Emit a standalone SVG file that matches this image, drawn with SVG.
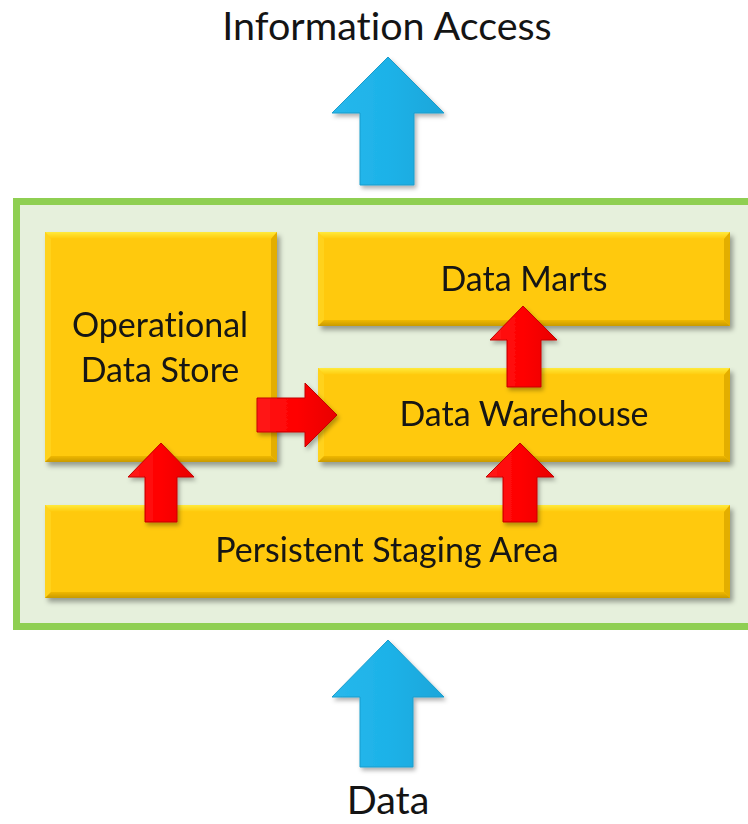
<svg xmlns="http://www.w3.org/2000/svg" width="748" height="824" viewBox="0 0 748 824">
  <defs>
    <style>
      .lbl { font-family: Lato, "Open Sans", "Liberation Sans", sans-serif; fill: #141414; text-anchor: middle; font-variant-ligatures: none; }
      .title { font-size: 39.5px; }
      .box-text { font-size: 34px; }
      .box-body { fill: #FFC908; }
      .bevel-top { fill: url(#gTop); }
      .bevel-bot { fill: url(#gBot); }
      .bevel-left { fill: #FFD21E; }
      .bevel-right { fill: #E3AE00; }
      .blue { fill: url(#gBlue); stroke: #1A9CCB; stroke-width: 1; }
      .red { fill: url(#gRed); stroke: #C40000; stroke-width: 1; }
    </style>
    <linearGradient id="gTop" x1="0" y1="0" x2="0" y2="1">
      <stop offset="0" stop-color="#FFEA3C"/>
      <stop offset="1" stop-color="#FFC908"/>
    </linearGradient>
    <linearGradient id="gBot" x1="0" y1="0" x2="0" y2="1">
      <stop offset="0" stop-color="#F0B800"/>
      <stop offset="1" stop-color="#C99A00"/>
    </linearGradient>
    <linearGradient id="gBlue" x1="0" y1="0" x2="1" y2="0">
      <stop offset="0" stop-color="#27B8EC"/>
      <stop offset="0.5" stop-color="#1DB2E8"/>
      <stop offset="1" stop-color="#1AA6DA"/>
    </linearGradient>
    <linearGradient id="gRed" x1="0" y1="0" x2="1" y2="0">
      <stop offset="0" stop-color="#FF1A1A"/>
      <stop offset="0.5" stop-color="#FF0000"/>
      <stop offset="1" stop-color="#E80000"/>
    </linearGradient>
    <filter id="shadow" x="-10%" y="-10%" width="130%" height="140%">
      <feDropShadow dx="3" dy="4" stdDeviation="2.5" flood-color="#000" flood-opacity="0.35"/>
    </filter>
    <filter id="softShadow" x="-20%" y="-20%" width="150%" height="150%">
      <feDropShadow dx="2" dy="3" stdDeviation="2" flood-color="#000" flood-opacity="0.3"/>
    </filter>
  </defs>

  <rect width="748" height="824" fill="#FFFFFF"/>

  <!-- outer container -->
  <g id="container">
    <rect x="16.5" y="201.5" width="740" height="425" fill="#E6F0DC" stroke="#8FCF52" stroke-width="7"/>
  </g>

  <!-- title and input labels -->
  <g id="label-information-access">
    <text class="lbl title" x="387" y="40">Information Access</text>
  </g>
  <g id="label-data">
    <text class="lbl title" x="388" y="814">Data</text>
  </g>

  <!-- Operational Data Store -->
  <g id="node-ods" filter="url(#shadow)">
    <rect class="box-body" x="45" y="232" width="232" height="230"/>
    <polygon class="bevel-top" points="45,232 277,232 271,239 51,239"/>
    <polygon class="bevel-left" points="45,232 51,239 51,456 45,462"/>
    <polygon class="bevel-right" points="277,232 277,462 271,456 271,239"/>
    <polygon class="bevel-bot" points="51,456 271,456 277,462 45,462"/>
    <text class="lbl box-text" x="160" y="337">Operational</text>
    <text class="lbl box-text" x="160" y="382">Data Store</text>
  </g>

  <!-- Data Marts -->
  <g id="node-data-marts" filter="url(#shadow)">
    <rect class="box-body" x="318" y="232" width="412" height="94"/>
    <polygon class="bevel-top" points="318,232 730,232 724,239 324,239"/>
    <polygon class="bevel-left" points="318,232 324,239 324,320 318,326"/>
    <polygon class="bevel-right" points="730,232 730,326 724,320 724,239"/>
    <polygon class="bevel-bot" points="324,320 724,320 730,326 318,326"/>
    <text class="lbl box-text" x="524" y="291">Data Marts</text>
  </g>

  <!-- Data Warehouse -->
  <g id="node-data-warehouse" filter="url(#shadow)">
    <rect class="box-body" x="318" y="368" width="412" height="94"/>
    <polygon class="bevel-top" points="318,368 730,368 724,375 324,375"/>
    <polygon class="bevel-left" points="318,368 324,375 324,456 318,462"/>
    <polygon class="bevel-right" points="730,368 730,462 724,456 724,375"/>
    <polygon class="bevel-bot" points="324,456 724,456 730,462 318,462"/>
    <text class="lbl box-text" x="524" y="426">Data Warehouse</text>
  </g>

  <!-- Persistent Staging Area -->
  <g id="node-psa" filter="url(#shadow)">
    <rect class="box-body" x="45" y="505" width="685" height="93"/>
    <polygon class="bevel-top" points="45,505 730,505 724,512 51,512"/>
    <polygon class="bevel-left" points="45,505 51,512 51,592 45,598"/>
    <polygon class="bevel-right" points="730,505 730,598 724,592 724,512"/>
    <polygon class="bevel-bot" points="51,592 724,592 730,598 45,598"/>
    <text class="lbl box-text" x="387" y="562">Persistent Staging Area</text>
  </g>

  <!-- connectors -->
  <g id="connectors">
    <!-- data in / information out -->
    <polygon class="blue" filter="url(#softShadow)" points="388,57 444,113 414,113 414,185 360,185 360,113 332,113"/>
    <polygon class="blue" filter="url(#softShadow)" points="388,640 444,697 413,697 413,767 360,767 360,697 332,697"/>
    <!-- staging to ODS -->
    <polygon class="red" filter="url(#softShadow)" points="161,443 194,477 177,477 177,522 145,522 145,477 128,477"/>
    <!-- staging to warehouse -->
    <polygon class="red" filter="url(#softShadow)" points="520,443 554,477 537,477 537,522 503,522 503,477 486,477"/>
    <!-- warehouse to marts -->
    <polygon class="red" filter="url(#softShadow)" points="523,306 557,340 541,340 541,387 507,387 507,340 490,340"/>
    <!-- ODS to warehouse -->
    <polygon class="red" filter="url(#softShadow)" points="337,415 305,447 305,432 257,432 257,398 305,398 305,383"/>
  </g>
</svg>
